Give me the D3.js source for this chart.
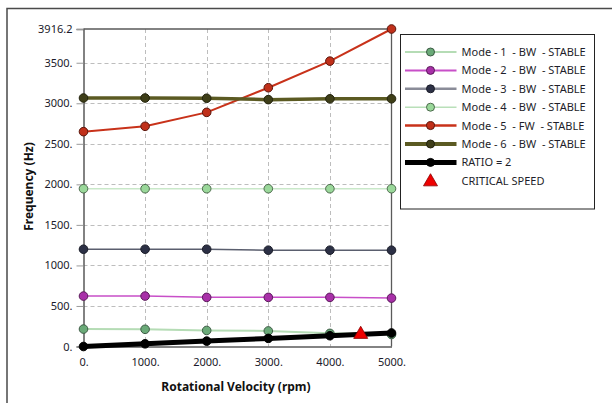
<!DOCTYPE html>
<html>
<head>
<meta charset="utf-8">
<script src="https://cdn.jsdelivr.net/npm/d3@7/dist/d3.min.js"></script>
<style>
  html, body { margin: 0; padding: 0; background: #fff; }
  svg { display: block; }
  text { font-family: "Noto Sans", "Open Sans", sans-serif; white-space: pre; }
</style>
</head>
<body>
<svg id="chart" width="612" height="403"></svg>
<script>
// Rotor dynamics Campbell diagram: frequency vs rotational velocity
const speeds = [0, 1000, 2000, 3000, 4000, 5000];            // rpm
const mode1 = [215, 212, 198, 192, 162, 148];                // Hz
const mode2 = [622, 622, 606, 606, 606, 597];
const mode3 = [1200, 1200, 1200, 1188, 1188, 1188];
const mode4 = [1946, 1946, 1946, 1946, 1946, 1946];
const mode5 = [2650, 2716, 2888, 3192, 3520, 3916.2];
const mode6 = [3065, 3065, 3062, 3045, 3055, 3055];
const ratio2 = [0, 33.3, 66.7, 100, 133.3, 166.7];           // 2x running speed
const criticalSpeed = [{ rpm: 4500, hz: 150 }];

const yTicks = [0, 500, 1000, 1500, 2000, 2500, 3000, 3500, 3916.2];
const yTickLabels = ["0.", "500.", "1000.", "1500.", "2000.", "2500.", "3000.", "3500.", "3916.2"];
const xTicks = [0, 1000, 2000, 3000, 4000, 5000];
const xTickLabels = ["0.", "1000.", "2000.", "3000.", "4000.", "5000."];

const seriesNames = [
  "Mode - 1  - BW  - STABLE",
  "Mode - 2  - BW  - STABLE",
  "Mode - 3  - BW  - STABLE",
  "Mode - 4  - BW  - STABLE",
  "Mode - 5  - FW  - STABLE",
  "Mode - 6  - BW  - STABLE",
  "RATIO = 2"
];
const seriesValues = [mode1, mode2, mode3, mode4, mode5, mode6, ratio2];
const seriesStyle = [
  { line: "#b5dcb5", lw: 2,   fill: "#6aaa78", stroke: "#3c5a44" },
  { line: "#c84fc8", lw: 1.5, fill: "#a830a8", stroke: "#5a1a5a" },
  { line: "#5a5e6e", lw: 1.5, fill: "#2c3045", stroke: "#1a1c28" },
  { line: "#c9e8c9", lw: 1.5, fill: "#9ad89a", stroke: "#4d6b4d" },
  { line: "#c8321a", lw: 2,   fill: "#c0301a", stroke: "#5a160c" },
  { line: "#5b5a22", lw: 3.5, fill: "#3e3e18", stroke: "#22220c" },
  { line: "#000000", lw: 5,   fill: "#000000", stroke: "#000000" }
];
const legendLineStyle = [
  { line: "#b5dcb5", lw: 2 },
  { line: "#c84fc8", lw: 2 },
  { line: "#8a8c98", lw: 2.5 },
  { line: "#b9e0b9", lw: 1.5 },
  { line: "#c8321a", lw: 2.5 },
  { line: "#5b5a22", lw: 4 },
  { line: "#000000", lw: 5 }
];

const svg = d3.select("#chart");

// outer frame
svg.append("rect")
  .attr("x", 7).attr("y", 8.5).attr("width", 620).attr("height", 420)
  .attr("fill", "none").attr("stroke", "#4a4a4a").attr("stroke-width", 1.5);

const plot = { left: 83.5, right: 391.5, top: 29, bottom: 346.5 };

const x = d3.scaleLinear().domain([0, 5000]).range([plot.left, plot.right]);
const y = d3.scaleLinear().domain([0, 3916.2]).range([plot.bottom, plot.top]);

// gridlines
const grid = svg.append("g").attr("stroke", "#bdbdbd").attr("stroke-dasharray", "4,3").attr("stroke-width", 1);
grid.selectAll("line.h").data(yTicks.slice(1, -1)).join("line")
  .attr("x1", plot.left).attr("x2", plot.right)
  .attr("y1", d => Math.round(y(d)) + 0.5).attr("y2", d => Math.round(y(d)) + 0.5);
grid.selectAll("line.v").data(xTicks.slice(1, -1)).join("line")
  .attr("y1", plot.top).attr("y2", plot.bottom)
  .attr("x1", d => Math.round(x(d)) + 0.5).attr("x2", d => Math.round(x(d)) + 0.5);

// plot border (top and right)
svg.append("path")
  .attr("d", `M${plot.left},${plot.top}H${plot.right}V${plot.bottom}`)
  .attr("fill", "none").attr("stroke", "#5a5a5a").attr("stroke-width", 1.3);

// y axis
const yAxis = d3.axisLeft(y).tickValues(yTicks)
  .tickFormat((d, i) => yTickLabels[i]).tickSize(7).tickPadding(4);
const gy = svg.append("g").attr("transform", `translate(${plot.left},0)`).call(yAxis);
gy.select(".domain").attr("stroke", "#5a5a5a").attr("stroke-width", 1.5);
gy.selectAll(".tick line").attr("stroke", "#9a9a9a");
gy.selectAll(".tick text").attr("font-size", 11).attr("fill", "#1a1a2a")
  .attr("font-family", "'Noto Sans', sans-serif");

// x axis
const xAxis = d3.axisBottom(x).tickValues(xTicks)
  .tickFormat((d, i) => xTickLabels[i]).tickSize(0).tickPadding(12);
const gx = svg.append("g").attr("transform", `translate(0,${plot.bottom})`).call(xAxis);
gx.select(".domain").attr("stroke", "#5a5a5a").attr("stroke-width", 1.5);
gx.selectAll(".tick text").attr("font-size", 11).attr("fill", "#1a1a2a")
  .attr("font-family", "'Noto Sans', sans-serif");

// axis titles
svg.append("text")
  .attr("transform", `translate(33,186.5) rotate(-90)`)
  .attr("text-anchor", "middle").attr("font-size", 12).attr("font-weight", "bold")
  .attr("fill", "#111").text("Frequency (Hz)");
svg.append("text")
  .attr("x", 236).attr("y", 391)
  .attr("text-anchor", "middle").attr("font-size", 12).attr("font-weight", "bold")
  .attr("fill", "#111").text("Rotational Velocity (rpm)");

// series
const line = d3.line().x((d, i) => x(speeds[i])).y(d => y(d));
const series = svg.append("g");
seriesValues.forEach((vals, k) => {
  const st = seriesStyle[k];
  const g = series.append("g");
  g.append("path").datum(vals).attr("d", line)
    .attr("fill", "none").attr("stroke", st.line).attr("stroke-width", st.lw)
    .attr("stroke-linejoin", "round");
  g.selectAll("circle").data(vals).join("circle")
    .attr("cx", (d, i) => x(speeds[i])).attr("cy", d => y(d)).attr("r", 4.3)
    .attr("fill", st.fill).attr("stroke", st.stroke).attr("stroke-width", 1);
});

// critical speed markers
const tri = d3.symbol().type(d3.symbolTriangle).size(85);
svg.append("g").selectAll("path").data(criticalSpeed).join("path")
  .attr("d", tri)
  .attr("transform", d => `translate(${x(d.rpm)},${y(d.hz)})`)
  .attr("fill", "#ee0000").attr("stroke", "#8a0000").attr("stroke-width", 0.8);

// legend
const lg = svg.append("g");
lg.append("rect").attr("x", 400.5).attr("y", 34.5).attr("width", 194).attr("height", 174.5)
  .attr("fill", "#fff").attr("stroke", "#222").attr("stroke-width", 1);
const rowY = i => 52 + i * 18.4;
seriesNames.forEach((name, k) => {
  const ls = legendLineStyle[k];
  const st = seriesStyle[k];
  const yy = rowY(k);
  lg.append("line").attr("x1", 405).attr("x2", 456.5).attr("y1", yy).attr("y2", yy)
    .attr("stroke", ls.line).attr("stroke-width", ls.lw);
  lg.append("circle").attr("cx", 430.5).attr("cy", yy).attr("r", 4)
    .attr("fill", st.fill).attr("stroke", st.stroke).attr("stroke-width", 1);
  lg.append("text").attr("x", 461.5).attr("y", yy + 4).attr("font-size", 11)
    .attr("fill", "#1e1e2a").attr("xml:space", "preserve").text(name);
});
lg.append("path").attr("d", tri)
  .attr("transform", `translate(430.5,${rowY(7) + 1})`)
  .attr("fill", "#ee0000").attr("stroke", "#8a0000").attr("stroke-width", 0.8);
lg.append("text").attr("x", 461.5).attr("y", rowY(7) + 4).attr("font-size", 11)
  .attr("fill", "#1e1e2a").text("CRITICAL SPEED");
</script>
</body>
</html>
